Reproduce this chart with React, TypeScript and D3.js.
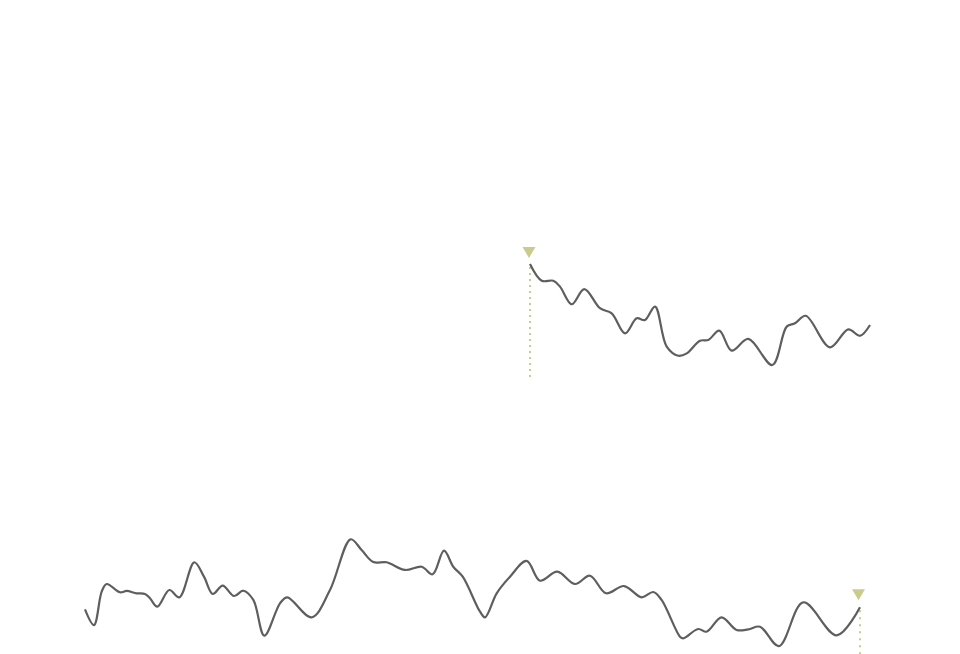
import React from "react";
import * as d3 from "d3";

// Focus chart (upper): time index 0..100, value 0..100
const focusHiddenT = [0, 1.34, 3.76, 4.84, 6.98, 7.79, 9.4, 11.29, 14.52, 17.47, 19.47, 20.97, 27.15, 30.11, 34.15, 36.82, 39.24, 42.47, 45.16];
const focusHiddenV = [19.8, 29.6, 56.3, 67.7, 93.8, 102, 83.3, 83.3, 82.3, 67.7, 80.2, 56.3, 71.9, 56.3, 56.3, 28.1, 45.8, 65.6, 78.75];

const focusT = [45.16, 47.05, 48.92, 50, 51.89, 53.92, 56.45, 58.34, 60.48, 62.37, 63.71, 65.32, 67.21, 69.08, 70.44, 72.58, 73.92, 75.69, 77.69, 80.37, 84.24, 86.56, 87.9, 89.63, 93.55, 96.5, 98.39, 100];
const focusV = [78.75, 68.3, 68.3, 64.6, 53.6, 63.1, 51.1, 47.9, 35.4, 44.8, 43.75, 52.1, 27.1, 21.4, 22.9, 30.8, 31.25, 37.1, 24.6, 31.9, 15.6, 39.6, 41.7, 46.4, 26.7, 37.9, 33.9, 40.6];
const focusMarkerT = 45.16;

// Overview chart (lower)
const overviewT = [0, 1.16, 2.15, 2.79, 4.52, 5.37, 6.66, 7.74, 8.39, 9.33, 10.88, 12.17, 14.1, 15.35, 16.48, 17.77, 19.23, 20.43, 21.72, 23.14, 25.16, 26.1, 29.24, 31.61, 34.28, 35.69, 37.2, 38.92, 41.29, 43.45, 44.85, 46.32, 47.52, 48.74, 50.97, 51.61, 53.12, 54.84, 56.98, 58.71, 60.94, 63.23, 65.16, 67.23, 69.55, 71.82, 73.33, 74.4, 76.77, 77.2, 79.12, 80.2, 82.14, 84.08, 85.59, 87.1, 89.55, 92.68, 96.98, 100];
const overviewV = [33.9, 20.8, 48.6, 55, 48.1, 49.2, 47.25, 46.7, 43.1, 36.1, 50, 43.9, 73.1, 61.1, 46.7, 53.6, 45, 49.4, 41.7, 11.9, 38.9, 43.9, 27.25, 50, 92.25, 83.3, 73.3, 73.1, 66.7, 69.4, 63.1, 82.75, 69.4, 61.1, 31.9, 27.25, 47.25, 61.1, 74.2, 57.75, 65.25, 55, 61.9, 47.25, 53.3, 43.9, 48.3, 41.7, 11.1, 9.75, 17.5, 15.25, 27.25, 16.7, 17.25, 19.4, 3.3, 39.75, 12.25, 35.6];
const overviewMarkerT = 100;

const LINE = "#5e5e5e";
const MARK = "#cbcb8e";

type Pt = [number, number];
const zip = (a: number[], b: number[]): Pt[] => a.map((t, i) => [t, b[i]]);

export default function App() {
  const xTop = d3.scaleLinear().domain([0, 100]).range([250, 870]);
  const yTop = d3.scaleLinear().domain([0, 100]).range([390, 230]);
  const xBot = d3.scaleLinear().domain([0, 100]).range([85, 860]);
  const yBot = d3.scaleLinear().domain([0, 100]).range([650, 530]);

  const curve = d3.curveCatmullRom.alpha(0.5);
  const lineTop = d3.line<Pt>().x((d) => xTop(d[0])).y((d) => yTop(d[1])).curve(curve);
  const lineBot = d3.line<Pt>().x((d) => xBot(d[0])).y((d) => yBot(d[1])).curve(curve);

  const focusData = zip(focusT, focusV);
  const hiddenData = zip(focusHiddenT, focusHiddenV);
  const overviewData = zip(overviewT, overviewV);

  const topMarkerV = focusV[focusT.indexOf(focusMarkerT)];
  const botMarkerV = overviewV[overviewT.indexOf(overviewMarkerT)];
  const tmx = xTop(focusMarkerT);
  const tmy = yTop(topMarkerV);
  const bmx = xBot(overviewMarkerT);
  const bmy = yBot(botMarkerV);

  const tri = (cx: number, apexY: number) =>
    `M${cx - 6.5},${apexY - 11}L${cx + 6.5},${apexY - 11}L${cx},${apexY}Z`;

  return (
    <svg
      width={960}
      height={654}
      style={{ position: "absolute", left: 0, top: 0, background: "#fff" }}
    >
      {/* hidden (white) elements of the focus chart */}
      <line x1={280} x2={860} y1={104} y2={104} stroke="#fff" strokeWidth={1} />
      <path d={lineTop(hiddenData) ?? ""} fill="none" stroke="#fff" strokeWidth={2} />

      {/* focus marker */}
      <line x1={tmx} x2={tmx} y1={tmy + 3} y2={378} stroke={MARK} strokeWidth={2} strokeDasharray="2,4" />
      <path d={tri(tmx - 1, tmy - 6)} fill={MARK} />
      <path d={lineTop(focusData) ?? ""} fill="none" stroke={LINE} strokeWidth={2.2} strokeLinejoin="round" />

      {/* overview */}
      <line x1={bmx} x2={bmx} y1={bmy + 3} y2={660} stroke={MARK} strokeWidth={2} strokeDasharray="2,5" />
      <path d={lineBot(overviewData) ?? ""} fill="none" stroke={LINE} strokeWidth={2.2} strokeLinejoin="round" />
      <path d={tri(bmx - 1.5, bmy - 7)} fill={MARK} />
    </svg>
  );
}
